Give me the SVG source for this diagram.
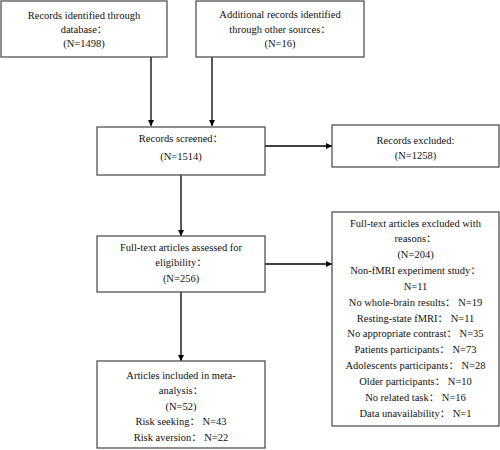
<svg xmlns="http://www.w3.org/2000/svg" width="500" height="450" viewBox="0 0 500 450">
<style>
.box{fill:#fff;stroke:#444;stroke-width:1.2}
.t{font-family:"Liberation Serif","Noto Sans CJK SC",serif;font-size:10.5px;fill:#111;text-anchor:middle}
.c{stroke:#000;stroke-width:1.3;fill:none}
</style>
<defs>
<marker id="ah" markerUnits="userSpaceOnUse" markerWidth="7" markerHeight="7" refX="6" refY="3" orient="auto">
<path d="M0,0 L6,3 L0,6 z" fill="#000"/>
</marker>
</defs>
<rect width="500" height="450" fill="#fff"/>
<g id="connectors">
<line class="c" x1="151" y1="57" x2="151" y2="126" marker-end="url(#ah)"/>
<line class="c" x1="212" y1="57" x2="212" y2="126" marker-end="url(#ah)"/>
<line class="c" x1="265" y1="146" x2="332" y2="146" marker-end="url(#ah)"/>
<line class="c" x1="181" y1="175" x2="181" y2="236" marker-end="url(#ah)"/>
<line class="c" x1="265" y1="264" x2="332" y2="264" marker-end="url(#ah)"/>
<line class="c" x1="181" y1="292" x2="181" y2="361" marker-end="url(#ah)"/>
</g>
<g id="n1">
<rect class="box" x="1" y="1" width="166" height="56"/>
<text class="t" x="84" y="18.5">Records identified through</text>
<text class="t" x="84" y="32.5">database：</text>
<text class="t" x="84" y="46.5">(N=1498)</text>
</g>
<g id="n2">
<rect class="box" x="196" y="1" width="168" height="56"/>
<text class="t" x="280" y="17.5">Additional records identified</text>
<text class="t" x="280" y="32.5">through other sources：</text>
<text class="t" x="280" y="46.5">(N=16)</text>
</g>
<g id="n3">
<rect class="box" x="97" y="127" width="168" height="48"/>
<text class="t" x="181" y="141.5">Records screened：</text>
<text class="t" x="181" y="159.5">(N=1514)</text>
</g>
<g id="n4">
<rect class="box" x="332" y="125" width="167" height="42"/>
<text class="t" x="415.5" y="143.5">Records excluded:</text>
<text class="t" x="415.5" y="158.5">(N=1258)</text>
</g>
<g id="n5">
<rect class="box" x="97" y="236" width="168" height="56"/>
<text class="t" x="181" y="250.5">Full-text articles assessed for</text>
<text class="t" x="181" y="265.5">eligibility：</text>
<text class="t" x="181" y="281.5">(N=256)</text>
</g>
<g id="n6">
<rect class="box" x="332" y="212" width="167" height="214"/>
<text class="t" x="415.5" y="226.5">Full-text articles excluded with</text>
<text class="t" x="415.5" y="242.3">reasons：</text>
<text class="t" x="415.5" y="258.2">(N=204)</text>
<text class="t" x="415.5" y="274">Non-fMRI experiment study：</text>
<text class="t" x="415.5" y="289.8">N=11</text>
<text class="t" x="415.5" y="305.7">No whole-brain results：  N=19</text>
<text class="t" x="415.5" y="321.5">Resting-state fMRI：  N=11</text>
<text class="t" x="415.5" y="337.3">No appropriate contrast：  N=35</text>
<text class="t" x="415.5" y="353.2">Patients participants：  N=73</text>
<text class="t" x="415.5" y="369">Adolescents participants：  N=28</text>
<text class="t" x="415.5" y="384.8">Older participants：  N=10</text>
<text class="t" x="415.5" y="400.7">No related task：  N=16</text>
<text class="t" x="415.5" y="416.5">Data unavailability：  N=1</text>
</g>
<g id="n7">
<rect class="box" x="97" y="361" width="168" height="87"/>
<text class="t" x="181" y="378.5">Articles included in meta-</text>
<text class="t" x="181" y="393.5">analysis：</text>
<text class="t" x="181" y="409.5">(N=52)</text>
<text class="t" x="181" y="424.5">Risk seeking：  N=43</text>
<text class="t" x="181" y="440.5">Risk aversion：  N=22</text>
</g>
</svg>
